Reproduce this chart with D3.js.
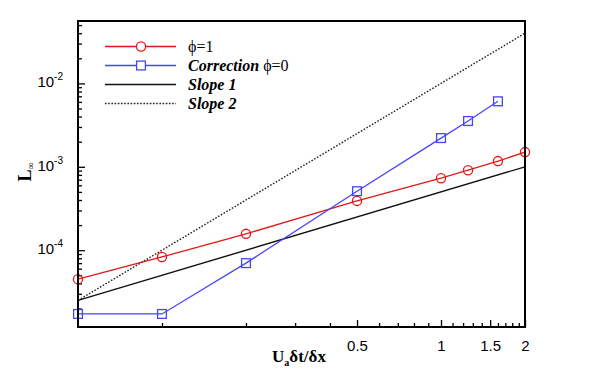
<!DOCTYPE html>
<html>
<head>
  <script src="https://d3js.org/d3.v7.min.js"></script>
  <style>
    body { margin: 0; background: #fff; }
    svg { display: block; }
  </style>
</head>
<body>
<div id="chart"></div>
<script>
  // data
  const xPhi1 = [0.05, 0.1, 0.2, 0.5, 1, 1.25, 1.6, 2];
  const yPhi1 = [4.5e-5, 8.3e-5, 1.57e-4, 3.9e-4, 7.3e-4, 9.1e-4, 1.17e-3, 1.5e-3];
  const xCorr = [0.05, 0.1, 0.2, 0.5, 1, 1.25, 1.6];
  const yCorr = [1.72e-5, 1.72e-5, 7.0e-5, 5.1e-4, 2.21e-3, 3.54e-3, 6.1e-3];
  const xSlope = [0.05, 2];
  const ySlope1 = [2.5e-5, 1e-3];
  const ySlope2 = [2.5e-5, 4e-2];

  const xMajor = [0.5, 1, 1.5, 2];
  const xMinor = [0.1, 0.2, 0.3, 0.4, 0.6, 0.7, 0.8, 0.9, 1.1, 1.2, 1.3, 1.4, 1.6, 1.7, 1.8, 1.9];
  const yMajorExp = [-4, -3, -2];

  const width = 598, height = 372;
  const margin = { top: 21, right: 73, bottom: 45, left: 78 };

  const svg = d3.select("#chart").append("svg")
    .attr("width", width)
    .attr("height", height);

  const x = d3.scaleLog().domain([0.05, 2]).range([margin.left, width - margin.right]);
  const y = d3.scaleLog().domain([1.2e-5, 0.056]).range([height - margin.bottom, margin.top]);

  // minor y ticks: 2..9 times each decade, inside the domain
  const yMinor = [];
  [-5, -4, -3, -2].forEach(e => {
    for (let k = 2; k <= 9; k++) {
      const v = k * Math.pow(10, e);
      if (v > y.domain()[0] && v < y.domain()[1]) yMinor.push(v);
    }
  });

  const xAxis = d3.axisBottom(x).tickValues(xMajor).tickSizeInner(-7).tickSizeOuter(0).tickFormat(d3.format("")).tickPadding(13);
  const xAxisMinor = d3.axisBottom(x).tickValues(xMinor).tickSizeInner(-4).tickSizeOuter(0).tickFormat("");
  const yAxis = d3.axisLeft(y).tickValues(yMajorExp.map(e => Math.pow(10, e))).tickSizeInner(-7).tickSizeOuter(0).tickFormat("");
  const yAxisMinor = d3.axisLeft(y).tickValues(yMinor).tickSizeInner(-4).tickSizeOuter(0).tickFormat("");

  const gx = svg.append("g").attr("transform", `translate(0,${height - margin.bottom})`).call(xAxis);
  svg.append("g").attr("transform", `translate(0,${height - margin.bottom})`).call(xAxisMinor);
  svg.append("g").attr("transform", `translate(${margin.left},0)`).call(yAxis);
  svg.append("g").attr("transform", `translate(${margin.left},0)`).call(yAxisMinor);

  svg.selectAll(".domain").remove();
  svg.selectAll(".tick line").attr("stroke", "#000").attr("stroke-width", 1.3);
  gx.selectAll("text")
    .attr("font-family", "'Liberation Sans', Arial, sans-serif")
    .attr("font-size", 15)
    .attr("fill", "#000");

  // y tick labels 10^n
  yMajorExp.forEach(e => {
    const t = svg.append("text")
      .attr("x", 63)
      .attr("y", y(Math.pow(10, e)) + 4)
      .attr("text-anchor", "end")
      .attr("font-family", "'Liberation Sans', Arial, sans-serif")
      .attr("font-size", 15);
    t.append("tspan").text("10");
    t.append("tspan").attr("font-size", 10).attr("dy", -7).text(e);
  });

  const line = d3.line().x(d => x(d[0])).y(d => y(d[1]));

  // slope guides
  svg.append("path")
    .attr("d", line(d3.zip(xSlope, ySlope2)))
    .attr("fill", "none").attr("stroke", "#222").attr("stroke-width", 1.4)
    .attr("stroke-dasharray", "1.6,1.6");
  svg.append("path")
    .attr("d", line(d3.zip(xSlope, ySlope1)))
    .attr("fill", "none").attr("stroke", "#111").attr("stroke-width", 1.4);

  // phi = 1
  const red = "#e01818", blue = "#4646f8";
  svg.append("path")
    .attr("d", line(d3.zip(xPhi1, yPhi1)))
    .attr("fill", "none").attr("stroke", red).attr("stroke-width", 1.3);
  svg.selectAll("circle.phi")
    .data(d3.zip(xPhi1, yPhi1))
    .enter().append("circle")
    .attr("class", "phi")
    .attr("cx", d => x(d[0])).attr("cy", d => y(d[1]))
    .attr("r", 4.6)
    .attr("fill", "none").attr("stroke", red).attr("stroke-width", 1.3);

  // correction phi = 0
  svg.append("path")
    .attr("d", line(d3.zip(xCorr, yCorr)))
    .attr("fill", "none").attr("stroke", blue).attr("stroke-width", 1.3);
  svg.selectAll("rect.corr")
    .data(d3.zip(xCorr, yCorr))
    .enter().append("rect")
    .attr("class", "corr")
    .attr("x", d => x(d[0]) - 4.4).attr("y", d => y(d[1]) - 4.4)
    .attr("width", 8.8).attr("height", 8.8)
    .attr("fill", "none").attr("stroke", blue).attr("stroke-width", 1.3);

  // frame
  svg.append("rect")
    .attr("x", margin.left).attr("y", margin.top)
    .attr("width", width - margin.left - margin.right)
    .attr("height", height - margin.top - margin.bottom)
    .attr("fill", "none").attr("stroke", "#000").attr("stroke-width", 2);

  // legend
  const legendRows = [
    { y: 46.5, color: red, marker: "circle", dash: null },
    { y: 65.5, color: blue, marker: "square", dash: null },
    { y: 84.5, color: "#111", marker: null, dash: null },
    { y: 103.5, color: "#222", marker: null, dash: "1.6,1.6" }
  ];
  legendRows.forEach(r => {
    svg.append("line")
      .attr("x1", 105).attr("x2", 176).attr("y1", r.y).attr("y2", r.y)
      .attr("stroke", r.color).attr("stroke-width", 1.4)
      .attr("stroke-dasharray", r.dash);
    if (r.marker === "circle") {
      svg.append("circle").attr("cx", 141).attr("cy", r.y).attr("r", 4.6)
        .attr("fill", "#fff").attr("stroke", r.color).attr("stroke-width", 1.3);
    } else if (r.marker === "square") {
      svg.append("rect").attr("x", 141 - 4.4).attr("y", r.y - 4.4).attr("width", 8.8).attr("height", 8.8)
        .attr("fill", "#fff").attr("stroke", r.color).attr("stroke-width", 1.3);
    }
  });

  const serif = "'Liberation Serif', 'Times New Roman', serif";
  function legendText(row, parts) {
    const t = svg.append("text")
      .attr("x", 188).attr("y", legendRows[row].y + 5.5)
      .attr("font-family", serif).attr("font-size", 16);
    parts.forEach(p => {
      t.append("tspan")
        .attr("font-weight", p.bold ? "bold" : "normal")
        .attr("font-style", p.bold ? "italic" : "normal")
        .text(p.s);
    });
  }
  legendText(0, [{ s: "ϕ=1" }]);
  legendText(1, [{ s: "Correction ", bold: true }, { s: "ϕ=0" }]);
  legendText(2, [{ s: "Slope 1", bold: true }]);
  legendText(3, [{ s: "Slope 2", bold: true }]);

  // axis titles
  const xt = svg.append("text")
    .attr("x", 299).attr("y", 362)
    .attr("text-anchor", "middle")
    .attr("font-family", serif).attr("font-size", 17).attr("font-weight", "bold");
  xt.append("tspan").text("U");
  xt.append("tspan").attr("font-size", 10).attr("dy", 4).text("a");
  xt.append("tspan").attr("dy", -4).text("δt/δx");

  const yt = svg.append("text")
    .attr("transform", "translate(31,172) rotate(-90)")
    .attr("text-anchor", "middle")
    .attr("font-family", serif).attr("font-size", 18).attr("font-weight", "bold");
  yt.append("tspan").text("L");
  yt.append("tspan").attr("font-size", 10).attr("font-weight", "normal").attr("dy", 3).text("∞");
</script>
</body>
</html>
